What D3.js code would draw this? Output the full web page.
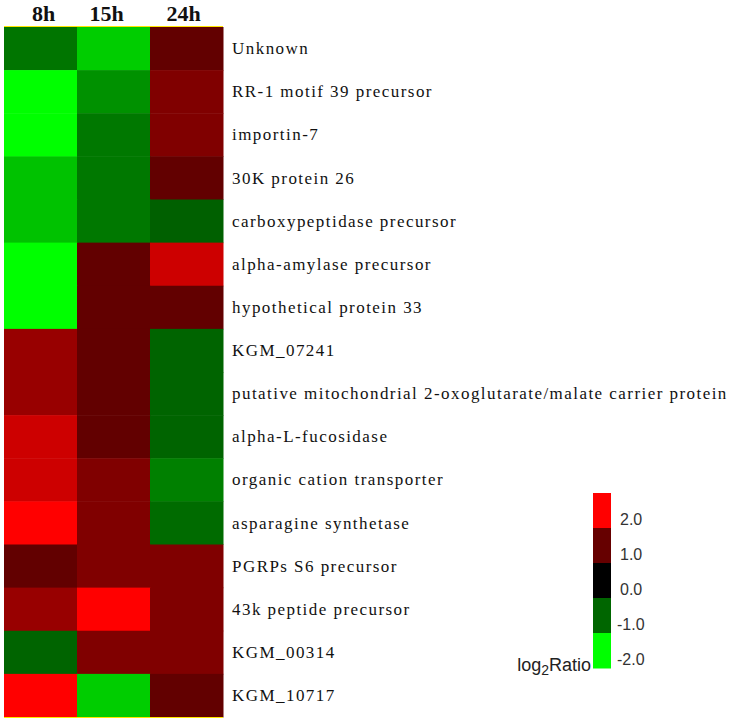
<!DOCTYPE html>
<html>
<head>
<meta charset="utf-8">
<script src="https://cdn.jsdelivr.net/npm/d3@7"></script>
<style>
  body { margin: 0; background: #fff; }
  svg { display: block; }
</style>
</head>
<body>
<svg id="chart" width="735" height="722"></svg>
<script>
// time points (columns)
var times = ['8h', '15h', '24h'];

// genes (rows), top to bottom
var genes = [
    'Unknown',
    'RR-1 motif 39 precursor',
    'importin-7',
    '30K protein 26',
    'carboxypeptidase precursor',
    'alpha-amylase precursor',
    'hypothetical protein 33',
    'KGM_07241',
    'putative mitochondrial 2-oxoglutarate/malate carrier protein',
    'alpha-L-fucosidase',
    'organic cation transporter',
    'asparagine synthetase',
    'PGRPs S6 precursor',
    '43k peptide precursor',
    'KGM_00314',
    'KGM_10717'
];

// log2 ratios
var v8h  = [-1.1, -2.0, -2.0, -1.6, -1.6, -2.0, -2.0, 1.33, 1.33, 1.67, 1.67, 2.0, 0.96, 1.33, -0.98, 2.0];
var v15h = [-1.67, -1.28, -1.12, -1.12, -1.12, 0.96, 0.96, 0.96, 0.96, 0.96, 1.17, 1.17, 1.17, 2.0, 1.17, -1.67];
var v24h = [0.96, 1.17, 1.17, 0.96, -0.94, 1.67, 0.96, -0.98, -0.98, -0.98, -1.17, -1.03, 1.17, 1.17, 1.17, 0.96];

// legend levels and tick labels
var legendLevels = [2, 1, 0, -1, -2];
var legendTicks = ['2.0', '1.0', '0.0', '-1.0', '-2.0'];

var series = [v8h, v15h, v24h];
var cells = [];
genes.forEach(function (g, i) {
    times.forEach(function (t, j) {
        cells.push({gene: g, time: t, value: series[j][i]});
    });
});

var svg = d3.select('#chart');

var x = d3.scaleBand().domain(times).range([4, 223]);
var y = d3.scaleBand().domain(genes).range([27, 717]);

var color = d3.scaleLinear()
    .domain([-2, -1, 0, 1, 2])
    .range(['#00ff00', '#006600', '#000000', '#660000', '#ff0000'])
    .clamp(true);

// heatmap cells
svg.append('g')
    .selectAll('rect')
    .data(cells)
    .enter()
    .append('rect')
    .attr('x', function (d) {return x(d.time)})
    .attr('y', function (d) {return y(d.gene)})
    .attr('width', x.bandwidth() + 0.5)
    .attr('height', y.bandwidth() + 0.5)
    .attr('fill', function (d) {return color(d.value)});

// thin yellow edges top and bottom
svg.append('g')
    .selectAll('line')
    .data([y.range()[0] - 0.5, y.range()[1] + 0.5])
    .enter()
    .append('line')
    .attr('x1', x.range()[0])
    .attr('x2', x.range()[1])
    .attr('y1', function (d) {return d})
    .attr('y2', function (d) {return d})
    .attr('stroke', '#ffe600')
    .attr('stroke-width', 1.2);

// column headers (sit a little left of the column centre in the source)
var headerShift = [3, -7, -3];
svg.append('g')
    .selectAll('text')
    .data(times)
    .enter()
    .append('text')
    .attr('x', function (d, i) {return x(d) + x.bandwidth() / 2 + headerShift[i]})
    .attr('y', 21)
    .attr('text-anchor', 'middle')
    .attr('font-family', 'Liberation Serif, Times New Roman, serif')
    .attr('font-weight', 'bold')
    .attr('font-size', 22)
    .attr('fill', '#111')
    .text(function (d) {return d});

// row labels
svg.append('g')
    .selectAll('text')
    .data(genes)
    .enter()
    .append('text')
    .attr('x', 232)
    .attr('y', function (d) {return y(d) + y.bandwidth() / 2})
    .attr('dy', '0.33em')
    .attr('font-family', 'Liberation Serif, Times New Roman, serif')
    .attr('font-size', 17)
    .attr('letter-spacing', 1.45)
    .attr('fill', '#111')
    .text(function (d) {return d});

// colour legend
var ly = d3.scaleBand().domain(legendLevels).range([493, 668]);
var lt = d3.scaleLinear().domain([2, -2]).range([519, 659]);

var legend = svg.append('g');

legend.selectAll('rect')
    .data(legendLevels)
    .enter()
    .append('rect')
    .attr('x', 593)
    .attr('y', function (d) {return ly(d)})
    .attr('width', 18)
    .attr('height', ly.bandwidth() + 0.5)
    .attr('fill', function (d) {return color(d)});

legend.selectAll('text')
    .data(legendLevels)
    .enter()
    .append('text')
    .attr('x', function (d) {return d < 0 ? 617 : 620})
    .attr('y', function (d) {return lt(d)})
    .attr('dy', '0.35em')
    .attr('font-family', 'Liberation Sans, Arial, sans-serif')
    .attr('font-size', 16)
    .attr('fill', '#333')
    .text(function (d, i) {return legendTicks[i]});

var title = legend.append('text')
    .attr('x', 591)
    .attr('y', 671)
    .attr('text-anchor', 'end')
    .attr('font-family', 'Liberation Sans, Arial, sans-serif')
    .attr('font-size', 18)
    .attr('fill', '#222');
title.append('tspan').text('log');
title.append('tspan').attr('font-size', 14).attr('dy', 4).text('2');
title.append('tspan').attr('dy', -4).text('Ratio');
</script>
</body>
</html>
